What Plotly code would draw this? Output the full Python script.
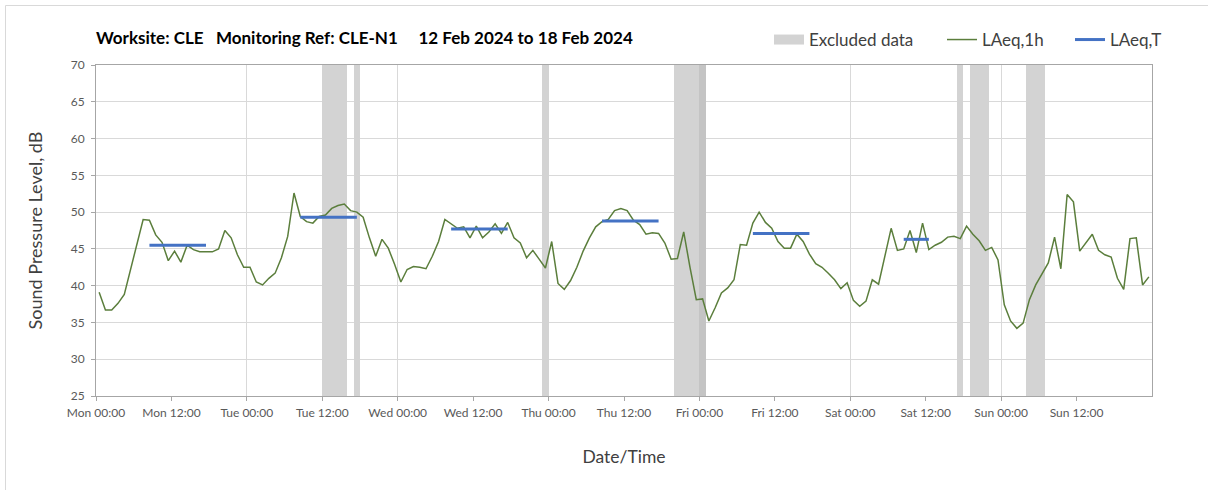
import numpy as np
import pandas as pd
import plotly.graph_objects as go

# ---------------- data ----------------
start_date = "2024-02-12 00:00"

# hourly LAeq,1h values, Mon 00:00 .. Sun 23:00 (168 hours)
laeq_1h = [
    39.1, 36.7, 36.7, 37.6, 38.8, 42.2, 45.8, 49.0, 48.9, 46.9, 45.9, 43.4, 44.7, 43.2,
    45.5, 44.9, 44.6, 44.6, 44.6, 45.0, 47.5, 46.5, 44.2, 42.5, 42.5, 40.5, 40.1, 41.0,
    41.7, 43.8, 46.7, 52.6, 49.4, 48.7, 48.5, 49.4, 49.6, 50.5, 50.9, 51.1, 50.2, 50.0,
    49.3, 46.5, 44.0, 46.3, 45.1, 42.9, 40.5, 42.2, 42.6, 42.5, 42.3, 44.0, 46.0, 49.0,
    48.4, 47.8, 48.0, 46.5, 48.1, 46.5, 47.3, 48.4, 47.1, 48.6, 46.5, 45.8, 43.8, 44.8,
    43.6, 42.4, 46.0, 40.3, 39.5, 40.7, 42.5, 44.7, 46.5, 48.0, 48.7, 49.0, 50.2, 50.5,
    50.2, 48.9, 48.3, 47.0, 47.2, 47.1, 45.8, 43.6, 43.7, 47.3, 42.5, 38.1, 38.2, 35.2,
    37.0, 39.0, 39.7, 40.8, 45.6, 45.5, 48.5, 50.0, 48.6, 47.8, 46.0, 45.1, 45.1, 47.0,
    46.0, 44.3, 43.0, 42.5, 41.7, 40.8, 39.6, 40.4, 38.0, 37.2, 37.9, 40.8, 40.2, 44.2,
    47.8, 44.8, 45.0, 47.5, 44.5, 48.5, 44.9, 45.5, 45.9, 46.6, 46.7, 46.4, 48.1, 47.0,
    46.1, 44.8, 45.2, 43.5, 37.4, 35.2, 34.2, 34.9, 38.1, 40.1, 41.6, 43.1, 46.6, 42.3,
    52.4, 51.4, 44.7, 45.9, 47.0, 44.8, 44.2, 43.9, 41.0, 39.5, 46.4, 46.5, 40.1, 41.2,
]

# LAeq,T periods: day index (0 = Mon), start hour, end hour, value
laeq_t_day = [0, 1, 2, 3, 4, 5]
laeq_t_start_h = [8, 8, 8, 8, 8, 8]
laeq_t_end_h = [18, 18, 18, 18, 18, 13]
laeq_t_value = [45.5, 49.3, 47.7, 48.8, 47.1, 46.3]

# Excluded data periods (hours from Mon 00:00)
excl_start_h = [36, 41, 71, 92, 96, 137, 139, 148]
excl_end_h = [40, 42, 72, 97, 97, 138, 142, 151]

# x tick positions (hours from Mon 00:00): every 12 h, Mon 00:00 .. Sun 12:00
x_tick_hours = list(range(0, 168, 12))

y_min, y_max, y_step = 25, 70, 5

title_text = ("Worksite: CLE\u00a0\u00a0\u00a0Monitoring Ref:\u00a0CLE-N1"
              "\u00a0\u00a0\u00a0\u00a0\u00a012 Feb 2024 to 18 Feb 2024")

# ---------------- build ----------------
base = pd.Timestamp(start_date)
hours = np.arange(len(laeq_1h)) + 0.5
x_1h = base + pd.to_timedelta(hours, unit="h")

xt, yt = [], []
for d, s, e, v in zip(laeq_t_day, laeq_t_start_h, laeq_t_end_h, laeq_t_value):
    xt += [base + pd.Timedelta(hours=24 * d + s + 0.5),
           base + pd.Timedelta(hours=24 * d + e - 0.5), None]
    yt += [v, v, None]

ex_s = np.array(excl_start_h, dtype=float)
ex_e = np.array(excl_end_h, dtype=float)
ex_x = base + pd.to_timedelta((ex_s + ex_e) / 2, unit="h")
ex_w = (ex_e - ex_s) * 3600 * 1000
ex_colors = []
for i in range(len(ex_s)):
    overl = i > 0 and ex_s[i] < ex_e[i - 1]
    ex_colors.append("#c4c4c4" if overl else "#d3d3d3")

tickvals = [base + pd.Timedelta(hours=h) for h in x_tick_hours]
ticktext = [t.strftime("%a %H:%M") for t in tickvals]

FONT = "Lato, 'Open Sans', sans-serif"
GRAY = "#d3d3d3"

fig = go.Figure()
fig.add_trace(go.Bar(
    x=ex_x, y=[y_max - y_min] * len(ex_s), base=[y_min] * len(ex_s), width=ex_w,
    marker=dict(color=ex_colors, line=dict(width=0)), name="Excluded data",
    showlegend=False, legend="legend",
))
# legend entry for the excluded-data bars (wide grey block, as in the source)
fig.add_trace(go.Scatter(
    x=[None], y=[None], mode="lines", name="Excluded data",
    line=dict(color=GRAY, width=10), legend="legend",
))
fig.add_trace(go.Scatter(
    x=x_1h, y=laeq_1h, mode="lines", name="LAeq,1h",
    line=dict(color="#5b7e3c", width=1.5), legend="legend2",
))
fig.add_trace(go.Scatter(
    x=xt, y=yt, mode="lines", name="LAeq,T",
    line=dict(color="#4472c4", width=3), connectgaps=False, legend="legend3",
))

W, H = 1208, 490
ml, mr, mt, mb = 96, 56, 65, 94
pw, ph = W - ml - mr, H - mt - mb


def px_x(p):
    return (p - ml) / pw


def px_y(p):
    return (H - mb - p) / ph


def leg(xpx):
    return dict(orientation="h", x=px_x(xpx), xanchor="left", y=px_y(40),
                yanchor="middle", font=dict(size=17, color="#404040", family=FONT),
                bgcolor="rgba(0,0,0,0)", borderwidth=0, itemwidth=30)


fig.update_layout(
    width=W, height=H,
    margin=dict(l=ml, r=mr, t=mt, b=mb, autoexpand=False),
    paper_bgcolor="white", plot_bgcolor="white",
    font=dict(family=FONT, color="#404040", size=12),
    title=dict(text="<b>" + title_text + "</b>", x=px_x(96), xref="paper",
               xanchor="left", y=1 - 38 / H, yref="container", yanchor="middle",
               font=dict(size=17, color="#000000", family=FONT)),
    legend=leg(769),
    legend2=leg(942),
    legend3=leg(1070),
    bargap=0,
    xaxis=dict(
        type="date",
        range=[base, base + pd.Timedelta(days=7)],
        tickmode="array", tickvals=tickvals, ticktext=ticktext,
        showgrid=False, ticks="outside", ticklen=4, tickcolor="#a6a6a6",
        showline=True, linecolor="#a6a6a6", linewidth=1, mirror=True,
        tickfont=dict(size=12, color="#595959"), ticklabelstandoff=2,
        minor=dict(dtick=24 * 3600 * 1000, tick0=base, showgrid=True,
                   gridcolor="#d9d9d9", gridwidth=1, ticks=""),
        title=dict(text="Date/Time", font=dict(size=17.5, color="#404040"), standoff=31),
        zeroline=False,
    ),
    yaxis=dict(
        range=[y_min, y_max], dtick=y_step, tick0=y_min,
        showgrid=True, gridcolor="#d9d9d9", gridwidth=1,
        ticks="outside", ticklen=4, tickcolor="#a6a6a6",
        showline=True, linecolor="#a6a6a6", linewidth=1, mirror=True,
        tickfont=dict(size=12, color="#595959"), ticklabelstandoff=4,
        title=dict(text="Sound Pressure Level, dB", font=dict(size=18, color="#404040"),
                   standoff=23),
        zeroline=False,
    ),
    shapes=[dict(
        type="path", xref="paper", yref="paper",
        path=f"M {px_x(5.5)} {px_y(H + 5)} L {px_x(5.5)} {px_y(5.5)} L {px_x(W + 5)} {px_y(5.5)}",
        line=dict(color="#d9d9d9", width=1),
    )],
)

fig.write_html("out.html", config={"displayModeBar": False},
               post_script="document.body.style.margin='0';")
